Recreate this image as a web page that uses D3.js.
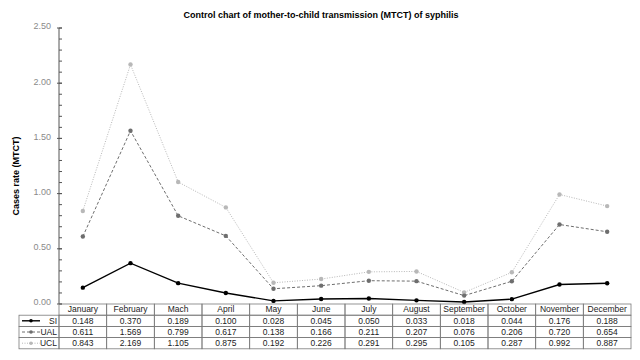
<!DOCTYPE html>
<html>
<head>
<meta charset="utf-8">
<script src="https://cdn.jsdelivr.net/npm/d3@7"></script>
<style>
  body { margin: 0; background: #fff; }
  text { font-family: "Liberation Sans", Arial, sans-serif; }
</style>
</head>
<body>
<svg id="chart"></svg>
<script>
// data
const months = ["January", "February", "Mach", "April", "May", "June", "July",
    "August", "September", "October", "November", "December"];
const si  = [0.148, 0.370, 0.189, 0.100, 0.028, 0.045, 0.050, 0.033, 0.018, 0.044, 0.176, 0.188];
const ual = [0.611, 1.569, 0.799, 0.617, 0.138, 0.166, 0.211, 0.207, 0.076, 0.206, 0.720, 0.654];
const ucl = [0.843, 2.169, 1.105, 0.875, 0.192, 0.226, 0.291, 0.295, 0.105, 0.287, 0.992, 0.887];
const yTicks = [0, 0.5, 1, 1.5, 2, 2.5];

const series = [
    {name: "SI",  values: si,  color: "#000", width: 1.4, dash: null,  r: 2.2},
    {name: "UAL", values: ual, color: "#6e6e6e", width: 1, dash: "3,2", r: 2.2},
    {name: "UCL", values: ucl, color: "#b8b8b8", width: 1, dash: "1,1.5", r: 2.2}
];

const W = 640, H = 360;
const plot = {left: 59, right: 631, top: 28, bottom: 304};
const rowH = 11.2;
const legendLeft = 19;

const svg = d3.select("#chart").attr("width", W).attr("height", H);

const x = d3.scaleBand().domain(months).range([plot.left, plot.right]);
const y = d3.scaleLinear().domain([0, 2.5]).range([plot.bottom, plot.top]);

// title
svg.append("text")
    .attr("x", 321).attr("y", 18)
    .attr("text-anchor", "middle")
    .attr("font-size", 9).attr("font-weight", "bold")
    .text("Control chart of mother-to-child transmission (MTCT) of syphilis");

// y axis label
svg.append("text")
    .attr("transform", "translate(19,176) rotate(-90)")
    .attr("text-anchor", "middle")
    .attr("font-size", 9).attr("font-weight", "bold")
    .text("Cases rate (MTCT)");

// y axis: minor ticks inside, major ticks labelled
const axisG = svg.append("g").attr("transform", `translate(${plot.left},0)`);
axisG.append("line")
    .attr("y1", plot.top).attr("y2", plot.bottom)
    .attr("stroke", "#555");
axisG.selectAll(".minor")
    .data(d3.range(0, 2.5001, 0.1))
    .join("line")
    .attr("x1", 0).attr("x2", 3)
    .attr("y1", d => y(d)).attr("y2", d => y(d))
    .attr("stroke", "#555");
axisG.selectAll(".major")
    .data(yTicks)
    .join("line")
    .attr("x1", -2).attr("x2", 3)
    .attr("y1", d => y(d)).attr("y2", d => y(d))
    .attr("stroke", "#555");
axisG.selectAll(".tick-label")
    .data(yTicks)
    .join("text")
    .attr("x", -8).attr("y", d => y(d) - 1)
    .attr("text-anchor", "end")
    .attr("dominant-baseline", "middle")
    .attr("font-size", 9).attr("fill", "#8a8a8a")
    .text(d => d3.format(".2f")(d));

// lines and markers (draw UCL first so SI sits on top)
const line = d3.line()
    .x((d, i) => x(months[i]) + x.bandwidth() / 2)
    .y(d => y(d));

series.slice().reverse().forEach(s => {
    svg.append("path")
        .datum(s.values)
        .attr("fill", "none")
        .attr("stroke", s.color)
        .attr("stroke-width", s.width)
        .attr("stroke-dasharray", s.dash)
        .attr("d", line);
    svg.selectAll(null)
        .data(s.values)
        .join("circle")
        .attr("cx", (d, i) => x(months[i]) + x.bandwidth() / 2)
        .attr("cy", d => y(d))
        .attr("r", s.r)
        .attr("fill", s.color);
});

// data table under the chart
const table = svg.append("g");
const border = "#7a7a7a";

// header row
months.forEach(m => {
    table.append("rect")
        .attr("x", x(m)).attr("y", plot.bottom)
        .attr("width", x.bandwidth()).attr("height", rowH)
        .attr("fill", "none").attr("stroke", border).attr("stroke-width", 0.8);
    table.append("text")
        .attr("x", x(m) + x.bandwidth() / 2)
        .attr("y", plot.bottom + rowH / 2 + 0.5)
        .attr("text-anchor", "middle").attr("dominant-baseline", "middle")
        .attr("font-size", 8.5).attr("fill", "#222")
        .text(m);
});

series.forEach((s, r) => {
    const ry = plot.bottom + rowH * (r + 1);
    // legend cell
    table.append("rect")
        .attr("x", legendLeft).attr("y", ry)
        .attr("width", plot.left - legendLeft).attr("height", rowH)
        .attr("fill", "none").attr("stroke", border).attr("stroke-width", 0.8);
    table.append("line")
        .attr("x1", legendLeft + 3).attr("x2", legendLeft + 21)
        .attr("y1", ry + rowH / 2).attr("y2", ry + rowH / 2)
        .attr("stroke", s.color).attr("stroke-width", s.width)
        .attr("stroke-dasharray", s.dash);
    table.append("circle")
        .attr("cx", legendLeft + 12).attr("cy", ry + rowH / 2)
        .attr("r", 1.8).attr("fill", s.color);
    table.append("text")
        .attr("x", plot.left - 2).attr("y", ry + rowH / 2 + 0.5)
        .attr("text-anchor", "end").attr("dominant-baseline", "middle")
        .attr("font-size", 8.5).attr("fill", "#222")
        .text(s.name);
    // value cells
    s.values.forEach((v, i) => {
        table.append("rect")
            .attr("x", x(months[i])).attr("y", ry)
            .attr("width", x.bandwidth()).attr("height", rowH)
            .attr("fill", "none").attr("stroke", border).attr("stroke-width", 0.8);
        table.append("text")
            .attr("x", x(months[i]) + x.bandwidth() / 2)
            .attr("y", ry + rowH / 2 + 0.5)
            .attr("text-anchor", "middle").attr("dominant-baseline", "middle")
            .attr("font-size", 8.5).attr("fill", "#222")
            .text(d3.format(".3f")(v));
    });
});
</script>
</body>
</html>
